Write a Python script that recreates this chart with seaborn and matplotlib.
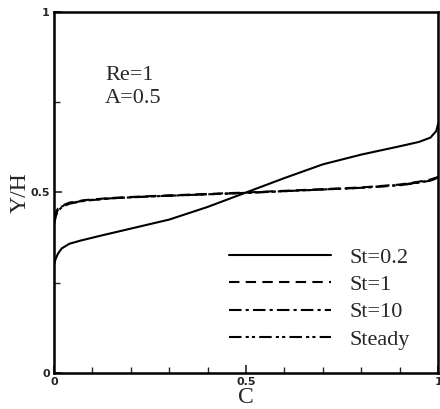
import matplotlib
matplotlib.use("Agg")
import matplotlib.pyplot as plt
import seaborn as sns
from matplotlib.ticker import MultipleLocator, FixedLocator


# DATA
x_st02 = [0.0, 0.004, 0.01, 0.02, 0.04, 0.07, 0.12, 0.2, 0.3, 0.4, 0.5,
          0.6, 0.7, 0.8, 0.9, 0.95, 0.98, 0.995, 1.0]
y_st02 = [0.30, 0.315, 0.33, 0.345, 0.358, 0.367, 0.38, 0.40, 0.425, 0.46, 0.50,
          0.54, 0.578, 0.605, 0.628, 0.64, 0.652, 0.67, 0.69]

x_st1 = [0.0, 0.005, 0.01, 0.02, 0.04, 0.08, 0.15, 0.25, 0.35, 0.5,
         0.65, 0.8, 0.9, 0.95, 0.98, 1.0]
y_st1 = [0.43, 0.445, 0.455, 0.463, 0.472, 0.479, 0.485, 0.49, 0.494, 0.50,
         0.507, 0.514, 0.522, 0.53, 0.536, 0.543]

x_st10 = [0.0, 0.005, 0.01, 0.02, 0.04, 0.08, 0.15, 0.25, 0.35, 0.5,
          0.65, 0.8, 0.9, 0.95, 0.98, 1.0]
y_st10 = [0.41, 0.435, 0.448, 0.459, 0.469, 0.477, 0.484, 0.489, 0.493, 0.499,
          0.506, 0.513, 0.520, 0.527, 0.533, 0.540]

x_steady = [0.0, 0.005, 0.01, 0.02, 0.04, 0.08, 0.15, 0.25, 0.35, 0.5,
            0.65, 0.8, 0.9, 0.95, 0.98, 1.0]
y_steady = [0.42, 0.44, 0.451, 0.461, 0.470, 0.478, 0.484, 0.489, 0.493, 0.499,
            0.506, 0.513, 0.521, 0.528, 0.534, 0.541]

labels = ["St=0.2", "St=1", "St=10", "Steady"]


# STYLE
sns.set_style("ticks")
plt.rcParams["font.family"] = ["Liberation Serif", "DejaVu Serif"]
plt.rcParams["xtick.direction"] = "in"
plt.rcParams["ytick.direction"] = "in"

fig = plt.figure(figsize=(4.4, 4.09), dpi=100)
ax = fig.add_axes([0.1227, 0.088, 0.873, 0.8827])

series = [
    (x_st02, y_st02, "-"),
    (x_st1, y_st1, (0, (5, 3))),
    (x_st10, y_st10, (0, (6, 2, 1.5, 2))),
    (x_steady, y_steady, (0, (6, 2, 1.5, 1.5, 1.5, 2))),
]

for (xs, ys, ls), lab in zip(series, labels):
    sns.lineplot(x=xs, y=ys, ax=ax, color="black", linewidth=1.5,
                 linestyle=ls, label=lab, sort=False, estimator=None)

ax.set_xlim(0, 1)
ax.set_ylim(0, 1)

ax.xaxis.set_major_locator(FixedLocator([0, 0.5, 1]))
ax.xaxis.set_minor_locator(MultipleLocator(0.1))
ax.yaxis.set_major_locator(FixedLocator([0, 0.5, 1]))
ax.yaxis.set_minor_locator(MultipleLocator(0.25))
ax.set_xticklabels(["0", "0.5", "1"])
ax.set_yticklabels(["0", "0.5", "1"])
ax.tick_params(which="major", length=6, width=1.2, labelsize=8, pad=3)
ax.tick_params(which="minor", length=4, width=1.0)
for lbl in ax.get_xticklabels() + ax.get_yticklabels():
    lbl.set_fontfamily("DejaVu Sans")
    lbl.set_fontweight("bold")

for sp in ax.spines.values():
    sp.set_linewidth(1.8)
    sp.set_color("black")

ax.set_xlabel("C", fontsize=17, labelpad=0)
ax.set_ylabel("Y/H", fontsize=17, labelpad=0)

ax.text(0.133, 0.823, "Re=1", fontsize=16, transform=ax.transAxes,
        va="center", ha="left")
ax.text(0.133, 0.759, "A=0.5", fontsize=16, transform=ax.transAxes,
        va="center", ha="left")

leg = ax.legend(loc="upper left", bbox_to_anchor=(0.456, 0.348), frameon=False,
                fontsize=16, handlelength=4.6, handletextpad=0.8,
                labelspacing=0.3, borderpad=0, borderaxespad=0)

fig.savefig("out.png", dpi=100)
plt.close()
